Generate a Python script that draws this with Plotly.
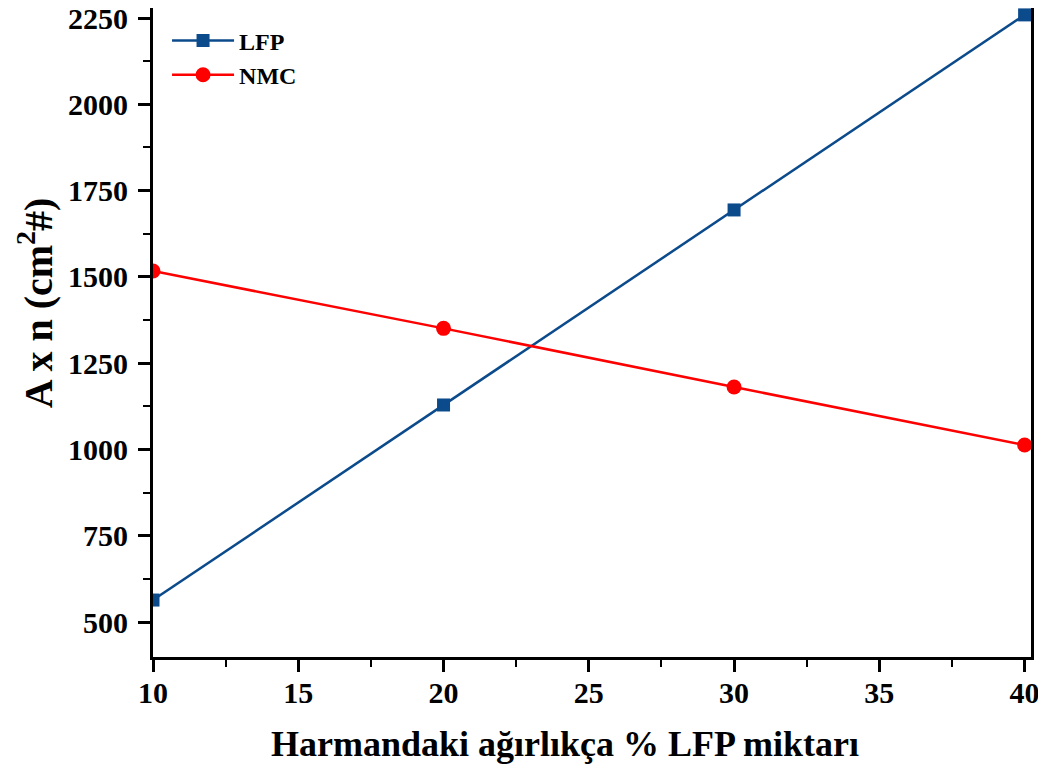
import plotly.graph_objects as go

lfp_x = [10, 20, 30, 40]
lfp_y = [564, 1129, 1694, 2259]

nmc_x = [10, 20, 30, 40]
nmc_y = [1517, 1351, 1181, 1013]

y_ticks = [500, 750, 1000, 1250, 1500, 1750, 2000, 2250]
x_ticks = [10, 15, 20, 25, 30, 35, 40]

FONT = "Liberation Serif"

fig = go.Figure()

fig.add_trace(go.Scatter(
    x=lfp_x, y=lfp_y, name="LFP",
    mode="lines+markers",
    line=dict(color="#0B4A8B", width=2.5),
    marker=dict(symbol="square", size=13, color="#0B4A8B")
))

fig.add_trace(go.Scatter(
    x=nmc_x, y=nmc_y, name="NMC",
    mode="lines+markers",
    line=dict(color="#FF0000", width=2.5),
    marker=dict(symbol="circle", size=15, color="#FF0000")
))

axis_style = dict(
    showline=True, linecolor="black", linewidth=3, mirror=True,
    showgrid=False, zeroline=False, automargin=False,
    ticks="outside", ticklen=12, tickwidth=2.5, tickcolor="black",
    ticklabeloverflow="allow",
    tickfont=dict(family=FONT, size=30, color="black", weight="bold"),
)

fig.update_xaxes(
    range=[10, 40.22], tickvals=x_ticks, ticklabelstandoff=-5,
    minor=dict(ticks="outside", ticklen=7, tickwidth=2, tickcolor="black", dtick=2.5, tick0=10),
    **axis_style
)

fig.update_yaxes(
    range=[399, 2279], tickvals=y_ticks, ticklabelstandoff=4,
    minor=dict(ticks="outside", ticklen=7, tickwidth=2, tickcolor="black", dtick=125, tick0=500),
    **axis_style
)

title_font = dict(family=FONT, size=36, color="black", weight="bold")

# axis titles as annotations so they sit where the reference has them
fig.add_annotation(
    text="Harmandaki ağırlıkça % LFP miktarı",
    xref="paper", yref="paper", x=0.469, y=0, yshift=-87,
    xanchor="center", yanchor="middle", showarrow=False,
    font=title_font
)
fig.add_annotation(
    text="A x n (cm<sup>2</sup>#)",
    xref="paper", yref="paper", x=0, y=0.545, xshift=-118,
    xanchor="center", yanchor="middle", showarrow=False, textangle=-90,
    font=dict(family=FONT, size=40, color="black", weight="bold")
)

# page body keeps the browser's 8px margin, so the figure is a bit smaller
fig.update_layout(
    width=1038, height=759,
    margin=dict(l=145, r=15, t=0, b=110, autoexpand=False),
    plot_bgcolor="white", paper_bgcolor="white",
    legend=dict(x=0.016, y=0.984, xanchor="left", yanchor="top",
                bgcolor="rgba(0,0,0,0)",
                font=dict(family=FONT, size=24, color="black", weight="bold"),
                itemwidth=62, tracegroupgap=2),
)

fig.write_html("out.html")
